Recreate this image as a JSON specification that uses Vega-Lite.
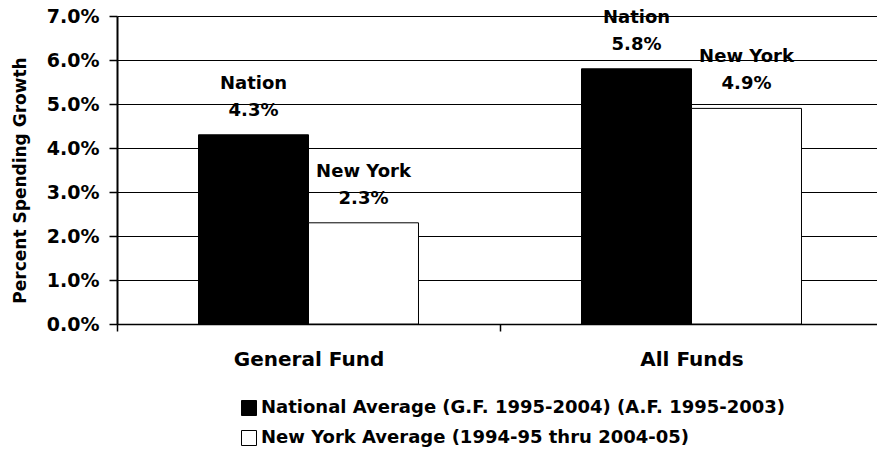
{
  "$schema": "https://vega.github.io/schema/vega-lite/v6.json",
  "width": 760,
  "height": 308,
  "autosize": {"type": "none"},
  "padding": {"left": 117, "top": 16, "right": 0, "bottom": 128},
  "background": "white",
  "config": {
    "view": {"stroke": null},
    "font": "DejaVu Sans"
  },
  "data": {
    "values": [
      {"fund": "General Fund", "series": "National Average (G.F. 1995-2004) (A.F. 1995-2003)", "name": "Nation", "value": 0.043},
      {"fund": "General Fund", "series": "New York Average (1994-95 thru 2004-05)", "name": "New York", "value": 0.023},
      {"fund": "All Funds", "series": "National Average (G.F. 1995-2004) (A.F. 1995-2003)", "name": "Nation", "value": 0.058},
      {"fund": "All Funds", "series": "New York Average (1994-95 thru 2004-05)", "name": "New York", "value": 0.049}
    ]
  },
  "encoding": {
    "x": {
      "field": "fund",
      "type": "nominal",
      "sort": ["General Fund", "All Funds"],
      "scale": {"range": [0, 766], "paddingInner": 0, "paddingOuter": 0},
      "axis": {
        "title": null,
        "labelAngle": 0,
        "labelFont": "DejaVu Sans",
        "labelFontWeight": "bold",
        "labelFontSize": 20,
        "labelColor": "black",
        "labelPadding": 18,
        "domainColor": "black",
        "domainWidth": 1.5,
        "tickColor": "black",
        "tickWidth": 1.5,
        "tickSize": 7,
        "tickBand": "extent",
        "grid": false
      }
    },
    "xOffset": {
      "field": "series",
      "type": "nominal",
      "sort": ["National Average (G.F. 1995-2004) (A.F. 1995-2003)", "New York Average (1994-95 thru 2004-05)"],
      "scale": {"paddingInner": 0, "paddingOuter": 0.741}
    },
    "y": {
      "field": "value",
      "type": "quantitative",
      "scale": {"domain": [0, 0.07], "nice": false},
      "axis": {
        "values": [0, 0.01, 0.02, 0.03, 0.04, 0.05, 0.06, 0.07],
        "format": ".1%",
        "title": "Percent Spending Growth",
        "titleFont": "DejaVu Sans",
        "titleFontWeight": "bold",
        "titleFontSize": 17,
        "titleColor": "black",
        "titleX": -97,
        "titleY": 164,
        "titleBaseline": "middle",
        "titleAlign": "center",
        "titleAngle": -90,
        "grid": true,
        "gridColor": "black",
        "gridOpacity": 1,
        "gridWidth": 1,
        "domainColor": "black",
        "domainWidth": 2,
        "tickColor": "black",
        "tickWidth": 1.5,
        "tickSize": 8,
        "labelFont": "DejaVu Sans",
        "labelFontWeight": "bold",
        "labelFontSize": 19,
        "labelColor": "black",
        "labelPadding": 10
      }
    }
  },
  "layer": [
    {
      "mark": {"type": "bar", "stroke": "black", "strokeWidth": 1, "fillOpacity": 1},
      "encoding": {
        "fill": {
          "field": "series",
          "type": "nominal",
          "sort": ["National Average (G.F. 1995-2004) (A.F. 1995-2003)", "New York Average (1994-95 thru 2004-05)"],
          "scale": {"range": ["black", "white"]},
          "legend": {
            "orient": "none",
            "legendX": 123,
            "legendY": 383,
            "direction": "vertical",
            "title": null,
            "labelFont": "DejaVu Sans",
            "labelFontWeight": "bold",
            "labelFontSize": 18,
            "labelColor": "black",
            "labelLimit": 700,
            "symbolType": "square",
            "symbolSize": 225,
            "symbolStrokeColor": "black",
            "symbolStrokeWidth": 1,
            "symbolOpacity": 1,
            "rowPadding": 10,
            "labelOffset": 3
          }
        }
      }
    },
    {
      "mark": {"type": "text", "dy": -24, "baseline": "middle", "align": "center", "font": "DejaVu Sans", "fontWeight": "bold", "fontSize": 18, "color": "black"},
      "encoding": {
        "text": {"field": "value", "type": "quantitative", "format": ".1%"}
      }
    },
    {
      "mark": {"type": "text", "dy": -51, "baseline": "middle", "align": "center", "font": "DejaVu Sans", "fontWeight": "bold", "fontSize": 18, "color": "black"},
      "encoding": {
        "text": {"field": "name", "type": "nominal"}
      }
    }
  ]
}
